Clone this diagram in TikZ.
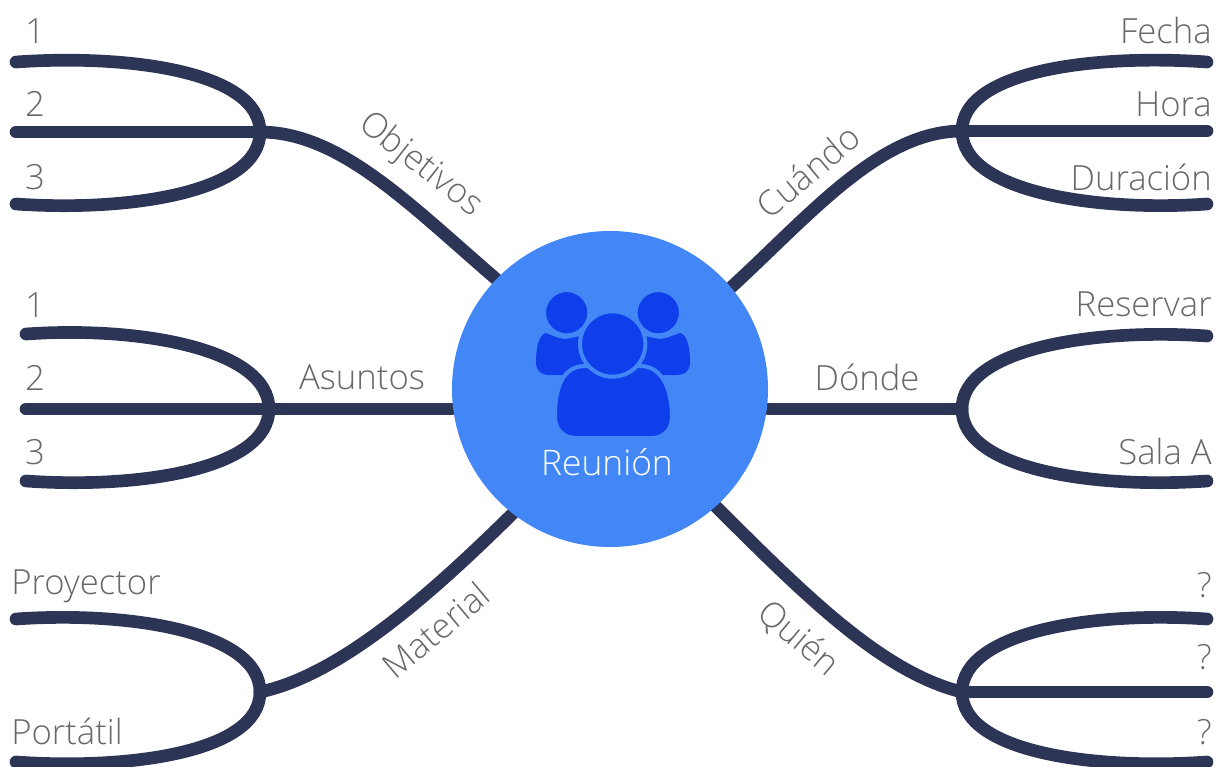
\documentclass[tikz,border=0pt]{standalone}
\usepackage{fontspec}
\usetikzlibrary{backgrounds}
\setmainfont{Open Sans}[UprightFont=* Light]
\definecolor{branchcol}{HTML}{2D3557}
\definecolor{hubcol}{HTML}{4287F5}
\definecolor{iconcol}{HTML}{0F3FEB}
\definecolor{labelcol}{HTML}{686868}
\tikzset{
    branch/.style={draw=branchcol, line width=9.5pt, line cap=round},
    leaf/.style={font=\fontsize{26}{26}\selectfont, text=labelcol, inner sep=0pt},
    iconpart/.style={fill=iconcol, draw=hubcol, line width=3pt},
}
\newcommand{\drawProng}[4]{%
    \draw[branch] (#1) .. controls +(0,#4*60) and +(#3*114,#4*8) .. (#2);
}
\begin{document}
\begin{tikzpicture}[x=0.75pt,y=-0.75pt]
\useasboundingbox (0,0) rectangle (1218,767);

% forks
\foreach \j/\jx/\jy/\ex/\s/\ytop/\ymid/\ybot in {
    objFork/260/132/16/1/62/132/204,
    asuFork/269/409/26/1/334/409/481,
    cuaFork/962/131/1207/-1/62/131/204,
    quiFork/962/692/1207/-1/619/692/762} {
    \coordinate (\j) at (\jx,\jy);
    \coordinate (\j top) at (\ex,\ytop);
    \coordinate (\j mid) at (\ex,\ymid);
    \coordinate (\j bot) at (\ex,\ybot);
    \drawProng{\j}{\j top}{\s}{-1}
    \drawProng{\j}{\j bot}{\s}{1}
    \draw[branch] (\j) -- (\j mid);
}
\foreach \j/\jx/\jy/\ex/\s/\ytop/\ybot in {
    matFork/260/692/16/1/619/762,
    donFork/962/409/1207/-1/336/481} {
    \coordinate (\j) at (\jx,\jy);
    \coordinate (\j top) at (\ex,\ytop);
    \coordinate (\j bot) at (\ex,\ybot);
    \drawProng{\j}{\j top}{\s}{-1}
    \drawProng{\j}{\j bot}{\s}{1}
}

% arms to the middle
\node[circle, fill=hubcol, minimum size=237pt, inner sep=0pt] (hub) at (610,389) {};
\begin{scope}[on background layer]
\draw[branch] (objFork) .. controls (340,132) and (410,205) .. (hub.136);
\draw[branch] (cuaFork) .. controls (880,131) and (810,215) .. (hub.40.5);
\draw[branch] (matFork) .. controls (340,675) and (430,595) .. (hub.232);
\draw[branch] (quiFork) .. controls (880,672) and (800,590) .. (hub.-48.6);
\draw[branch] (asuFork) -- (hub.west |- asuFork);
\draw[branch] (donFork) -- (hub.east |- donFork);
\end{scope}

% people icon
\fill[iconpart, draw=none] (546,333) .. controls (538,335) and (536,350) .. (536,362) .. controls (536,371) and (541,375) .. (550,375) -- (600,375) -- (585,335) -- (566,339) .. controls (560,339) and (553,336) .. cycle;
\fill[iconpart, draw=none] (680,333) .. controls (688,335) and (690,350) .. (690,362) .. controls (690,371) and (685,375) .. (676,375) -- (625,375) -- (640,335) -- (659,339) .. controls (665,339) and (672,336) .. cycle;
\draw[iconpart] (566.7,312.7) circle (17pt);
\draw[iconpart] (658.3,312.7) circle (17pt);
\draw[iconpart] (576,438) .. controls (563,438) and (555,429) .. (555,417) .. controls (555,393) and (560,366) .. (585,366) -- (640,366) .. controls (664,366) and (672,393) .. (672,417) .. controls (672,429) and (664,438) .. (652,438) -- cycle;
\draw[iconpart] (612.7,344) circle (24.5pt);

\node[leaf, text=white, font=\fontsize{26.5}{26.5}\selectfont] (hubText) at (607,462) {Reunión};

% arm labels
\node[leaf, rotate=-38] (objLabel) at (420,165) {Objetivos};
\node[leaf, rotate=40] (cuaLabel) at (808,171) {Cuándo};
\node[leaf] (asuLabel) at (362,377) {Asuntos};
\node[leaf] (donLabel) at (867,377) {Dónde};
\node[leaf, rotate=40] (matLabel) at (436,630) {Material};
\node[leaf, rotate=-40] (quiLabel) at (798,639) {Quién};

% leaves
\foreach \name/\y/\txt in {a/31/1,b/104/2,c/177/3,d/305/1,e/378/2,f/452/3}
    \node[leaf] (left\name) at (35,\y) {\txt};
\foreach \name/\y/\txt in {a/586/Proyector,b/731/Portátil}
    \node[leaf, anchor=west] (tool\name) at (11,\y) {\txt};
\foreach \name/\y/\txt in {a/31/Fecha,b/104/Hora,c/177/Duración,d/304/Reservar,e/451/Sala A,f/585/?,g/657/?,h/732/?}
    \node[leaf, anchor=east] (right\name) at (1212,\y) {\txt};
\end{tikzpicture}
\end{document}
